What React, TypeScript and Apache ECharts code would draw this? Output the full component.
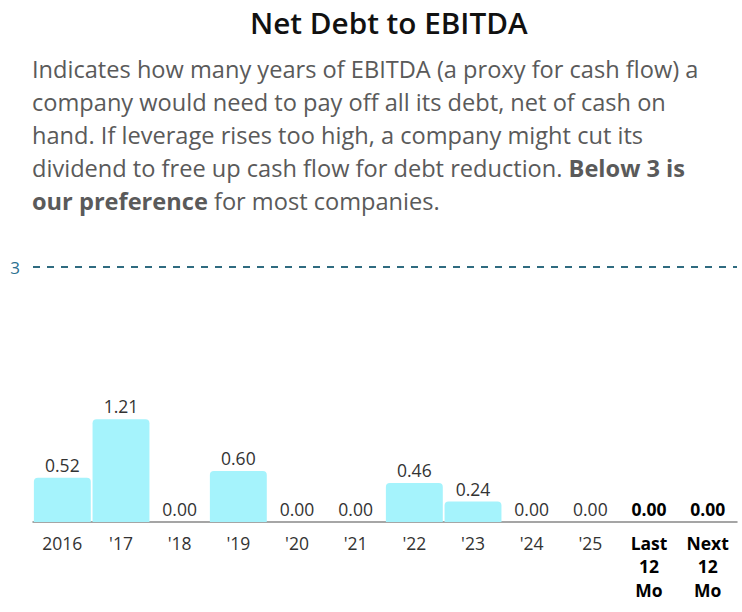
import React, { useEffect, useRef } from "react";
import * as echarts from "echarts";

const categories = ["2016", "'17", "'18", "'19", "'20", "'21", "'22", "'23", "'24", "'25", "Last 12 Mo", "Next 12 Mo"];
const values = [0.52, 1.21, 0, 0.6, 0, 0, 0.46, 0.24, 0, 0, 0, 0];
const boldCategories = ["Last 12 Mo", "Next 12 Mo"];
const preferenceLevel = 3;
const titleText = "Net Debt to EBITDA";
const descriptionLines = [
  "Indicates how many years of EBITDA (a proxy for cash flow) a",
  "company would need to pay off all its debt, net of cash on",
  "hand. If leverage rises too high, a company might cut its",
  "dividend to free up cash flow for debt reduction. {b|Below 3 is}",
  "{b|our preference} for most companies.",
];

const FONT = "'Open Sans', sans-serif";

export default function App() {
  const ref = useRef<HTMLDivElement>(null);
  useEffect(() => {
    if (!ref.current) return;
    const chart = echarts.init(ref.current, undefined, { renderer: "svg" });
    chart.setOption({
      animation: false,
      textStyle: { fontFamily: FONT },
      title: {
        text: titleText,
        left: 245,
        top: 2,
        textStyle: { fontFamily: FONT, fontSize: 29.7, fontWeight: 600, color: "#111" },
      },
      graphic: descriptionLines.map((line, i) => ({
        type: "text",
        left: 32,
        top: 57 + i * 33,
        style: {
          text: line,
          fontFamily: FONT,
          fontSize: 23.6,
          fill: "#5a5a5a",
          rich: {
            b: { fontFamily: FONT, fontSize: 23.6, fontWeight: "bold", fill: "#5a5a5a", color: "#5a5a5a" },
          },
        },
      })),
      grid: { left: 33, right: 5, top: 267, bottom: 90 },
      xAxis: {
        type: "category",
        data: categories,
        axisLine: { lineStyle: { color: "#888", width: 1.5 } },
        axisTick: { alignWithLabel: true, length: 5, lineStyle: { color: "#888", width: 1.5 } },
        axisLabel: {
          interval: 0,
          margin: 9,
          fontSize: 17.5,
          color: "#333",
          fontFamily: FONT,
          lineHeight: 23.5,
          formatter: (v: string) =>
            boldCategories.includes(v) ? v.split(" ").map((p) => `{b|${p}}`).join("\n") : v,
          rich: {
            b: { fontSize: 17.5, fontWeight: "bold", color: "#000", fontFamily: FONT, lineHeight: 23.5 },
          },
        },
      },
      yAxis: { type: "value", min: 0, max: 3, show: false, splitLine: { show: false } },
      series: [
        {
          type: "bar",
          barCategoryGap: "3%",
          data: values.map((v, i) => ({
            value: v,
            label: boldCategories.includes(categories[i])
              ? { fontWeight: "bold", color: "#000" }
              : undefined,
          })),
          itemStyle: { color: "#a5f3fc", borderRadius: [4, 4, 0, 0] },
          label: {
            show: true,
            position: "top",
            distance: 4,
            fontSize: 17.5,
            color: "#333",
            fontFamily: FONT,
            formatter: (p: any) => Number(p.value).toFixed(2),
          },
          markLine: {
            silent: true,
            symbol: "none",
            data: [{ yAxis: preferenceLevel }],
            lineStyle: { type: [7, 7], color: "#2f6b80", width: 2 },
            label: {
              position: "start",
              distance: 13,
              formatter: String(preferenceLevel),
              fontSize: 17,
              color: "#2a7090",
              fontFamily: FONT,
            },
          },
        },
      ],
    });
    return () => chart.dispose();
  }, []);
  return (
    <div
      ref={ref}
      style={{ position: "absolute", left: 0, top: 0, width: 742, height: 612, background: "#fff" }}
    />
  );
}
